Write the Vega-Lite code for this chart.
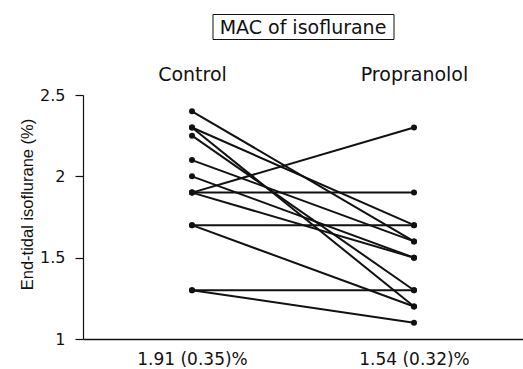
{
  "$schema": "https://vega.github.io/schema/vega-lite/v6.json",
  "padding": {"left": 19, "top": 13, "right": 0, "bottom": 0},
  "background": "white",
  "config": {
    "font": "DejaVu Sans",
    "axis": {"labelColor": "#111", "titleColor": "#111", "domainColor": "#111", "tickColor": "#111", "labelFont": "DejaVu Sans", "titleFont": "DejaVu Sans", "titleFontWeight": "normal"}
  },
  "vconcat": [
    {
      "width": 181,
      "height": 25,
      "view": {"stroke": "#111", "strokeWidth": 1, "fill": "white"},
      "data": {"values": [{"label": "MAC of isoflurane"}]},
      "mark": {"type": "text", "fontSize": 19, "color": "#111", "font": "DejaVu Sans", "baseline": "middle", "dy": 1},
      "encoding": {"text": {"field": "label", "type": "nominal"}}
    },
    {
      "width": 440,
      "height": 244,
      "view": {"stroke": null},
      "data": {
        "values": [
          {"subject": 1, "condition": "Control", "value": 2.4},
          {"subject": 1, "condition": "Propranolol", "value": 1.6},
          {"subject": 2, "condition": "Control", "value": 2.3},
          {"subject": 2, "condition": "Propranolol", "value": 1.7},
          {"subject": 3, "condition": "Control", "value": 2.3},
          {"subject": 3, "condition": "Propranolol", "value": 1.2},
          {"subject": 4, "condition": "Control", "value": 2.25},
          {"subject": 4, "condition": "Propranolol", "value": 1.3},
          {"subject": 5, "condition": "Control", "value": 2.1},
          {"subject": 5, "condition": "Propranolol", "value": 1.6},
          {"subject": 6, "condition": "Control", "value": 2.0},
          {"subject": 6, "condition": "Propranolol", "value": 1.5},
          {"subject": 7, "condition": "Control", "value": 1.9},
          {"subject": 7, "condition": "Propranolol", "value": 2.3},
          {"subject": 8, "condition": "Control", "value": 1.9},
          {"subject": 8, "condition": "Propranolol", "value": 1.9},
          {"subject": 9, "condition": "Control", "value": 1.9},
          {"subject": 9, "condition": "Propranolol", "value": 1.5},
          {"subject": 10, "condition": "Control", "value": 1.7},
          {"subject": 10, "condition": "Propranolol", "value": 1.7},
          {"subject": 11, "condition": "Control", "value": 1.7},
          {"subject": 11, "condition": "Propranolol", "value": 1.2},
          {"subject": 12, "condition": "Control", "value": 1.3},
          {"subject": 12, "condition": "Propranolol", "value": 1.3},
          {"subject": 13, "condition": "Control", "value": 1.3},
          {"subject": 13, "condition": "Propranolol", "value": 1.1}
        ]
      },
      "resolve": {"axis": {"x": "independent"}},
      "layer": [
        {
          "mark": {"type": "line", "color": "#111", "strokeWidth": 2},
          "encoding": {
            "x": {
              "field": "condition", "type": "nominal",
              "scale": {"type": "point", "domain": ["Control", "Propranolol"], "padding": 0.491},
              "axis": {
                "orient": "bottom", "title": null, "ticks": false, "domain": true, "domainWidth": 1.5,
                "labelAngle": 0, "labelFontSize": 17, "labelPadding": 12,
                "labelExpr": "datum.value == 'Control' ? '1.91 (0.35)%' : '1.54 (0.32)%'"
              }
            },
            "y": {
              "field": "value", "type": "quantitative",
              "scale": {"domain": [1, 2.5], "nice": false, "zero": false},
              "axis": {
                "values": [1, 1.5, 2, 2.5], "format": "~g", "grid": false,
                "tickSize": 8, "tickWidth": 1.2, "domainWidth": 1.2, "labelPadding": 10, "labelFontSize": 16,
                "title": "End-tidal isoflurane (%)", "titleFont": "Liberation Sans", "titleFontSize": 16.5, "titlePadding": 4, "titleY": 109
              }
            },
            "detail": {"field": "subject", "type": "nominal"}
          }
        },
        {
          "mark": {"type": "point", "filled": true, "color": "#111", "size": 36, "opacity": 1},
          "encoding": {
            "x": {
              "field": "condition", "type": "nominal",
              "axis": {
                "orient": "top", "title": null, "ticks": false, "domain": false,
                "labelAngle": 0, "labelFontSize": 19, "labelPadding": 11
              }
            },
            "y": {"field": "value", "type": "quantitative"}
          }
        }
      ]
    }
  ],
  "spacing": 56,
  "center": true,
  "bounds": "flush"
}
